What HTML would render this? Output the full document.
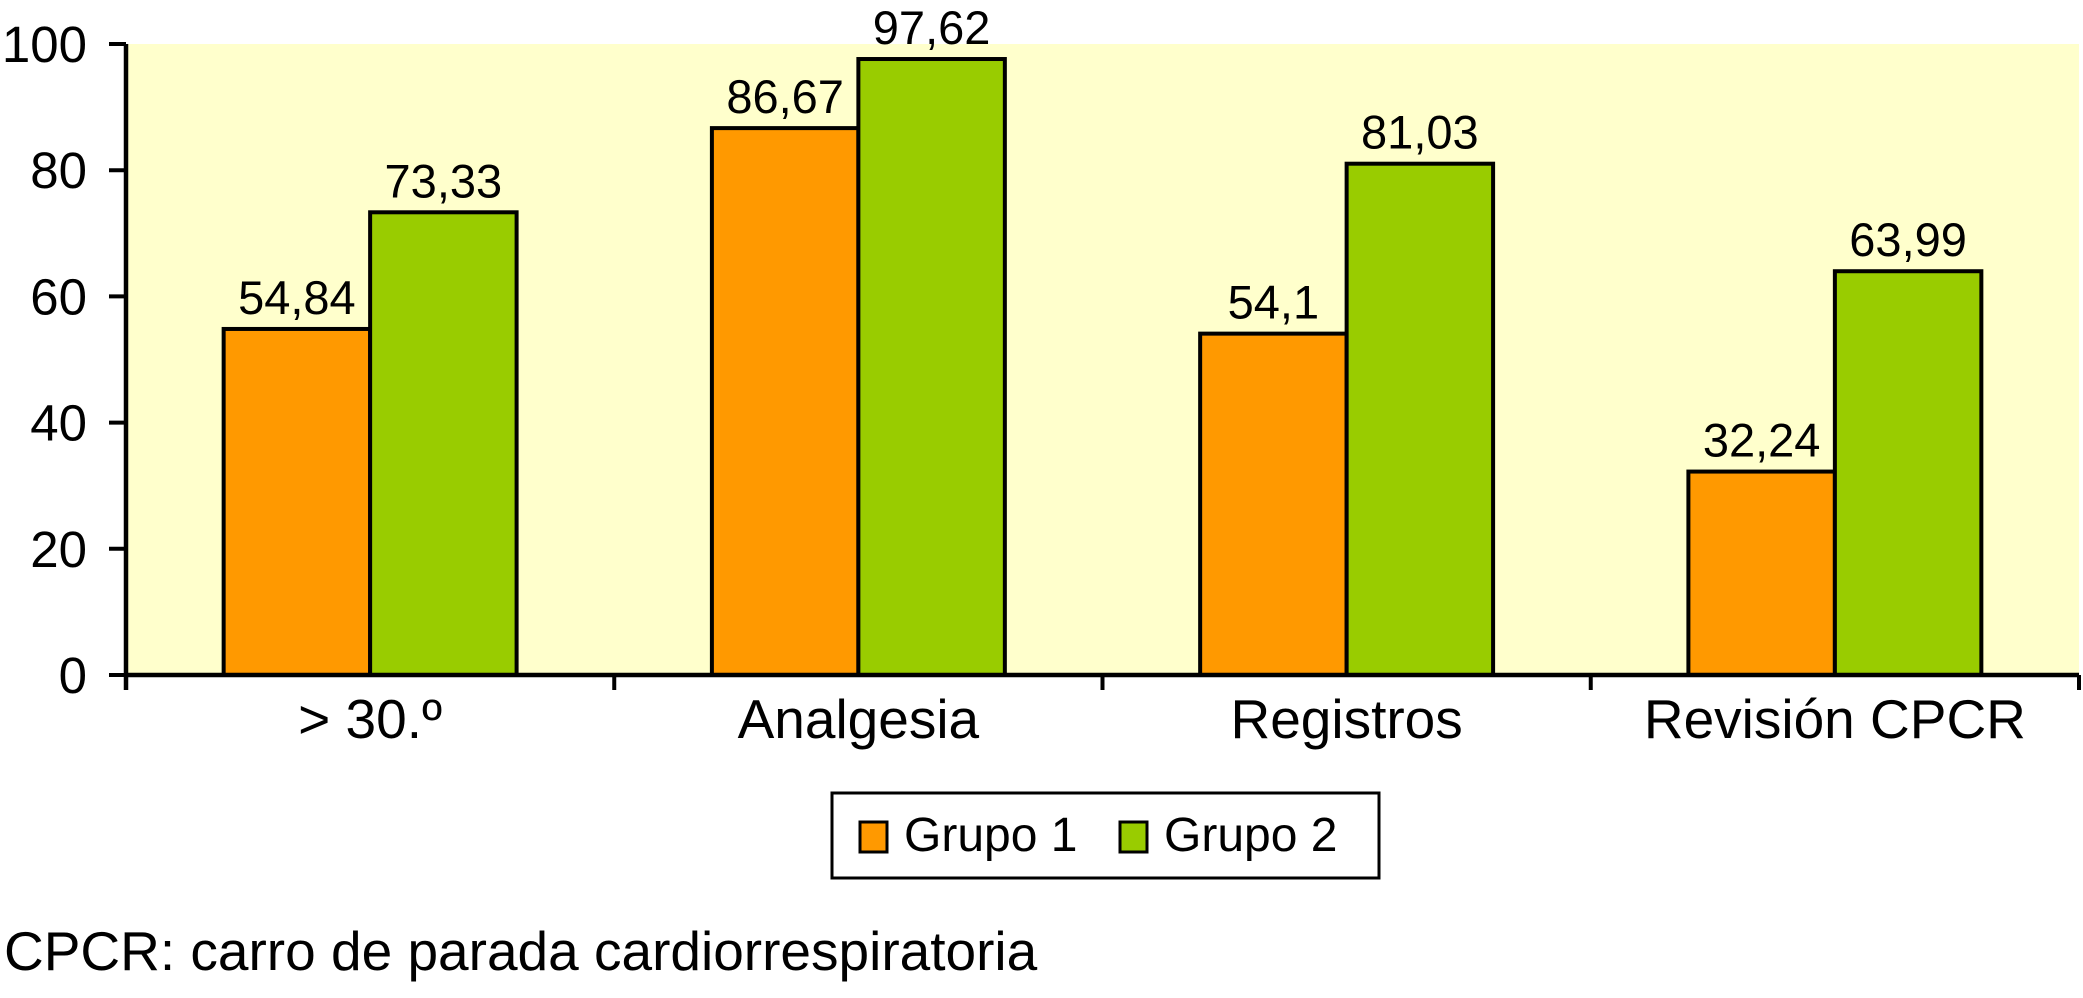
<!DOCTYPE html>
<html><head><meta charset="utf-8"><style>
html,body{margin:0;padding:0;background:#fff;}
svg{display:block;font-family:"Liberation Sans",Arial,sans-serif;}
</style></head><body>
<svg id="chart" width="2083" height="998" viewBox="0 0 2083 998" xmlns="http://www.w3.org/2000/svg">
<rect x="126" y="44" width="1953" height="631" fill="#ffffcc"/>
<g id="bars"></g>
<g id="labels"></g>
<g id="axes"></g>
<g>
<rect x="832" y="793" width="547" height="85" fill="#fff" stroke="#000" stroke-width="3"/>
<g>
<rect x="860" y="822" width="27" height="30" fill="#ff9900" stroke="#000" stroke-width="3"/>
<text x="904" y="851" font-size="48">Grupo 1</text></g>
<g>
<rect x="1120" y="822" width="27" height="30" fill="#99cc00" stroke="#000" stroke-width="3"/>
<text x="1164" y="851" font-size="48">Grupo 2</text></g>
</g>
<text x="4" y="970" font-size="55">CPCR: carro de parada cardiorrespiratoria</text>
</svg>
<script>
const categories = ["> 30.º", "Analgesia", "Registros", "Revisión CPCR"];
const grupo1 = [54.84, 86.67, 54.1, 32.24];
const grupo2 = [73.33, 97.62, 81.03, 63.99];
const grupo1Labels = ["54,84", "86,67", "54,1", "32,24"];
const grupo2Labels = ["73,33", "97,62", "81,03", "63,99"];
const yTicks = [0, 20, 40, 60, 80, 100];

const NS = "http://www.w3.org/2000/svg";
const X0 = 126, X1 = 2079, Y0 = 675, Y1 = 44, YMAX = 100;
const catW = (X1 - X0) / categories.length;
const barW = catW * 0.3;
const gap = (catW - 2 * barW) / 2;
function yScale(v){ return Y0 - (v / YMAX) * (Y0 - Y1); }
function xCat(i){ return X0 + i * catW; }
function mk(tag, attrs, parent){ const e = document.createElementNS(NS, tag); for (const k in attrs) e.setAttribute(k, attrs[k]); parent.appendChild(e); return e; }

const gb = document.getElementById("bars"), gl = document.getElementById("labels"), ga = document.getElementById("axes");
const series = [[grupo1, grupo1Labels, "#ff9900", "grupo-1"], [grupo2, grupo2Labels, "#99cc00", "grupo-2"]];
categories.forEach((c, i) => {
  series.forEach((s, j) => {
    const x = xCat(i) + gap + j * barW, y = yScale(s[0][i]);
    const r = mk("rect", {x: x, y: y, width: barW, height: Y0 - y, fill: s[2], stroke: "#000", "stroke-width": 4}, gb);
    
    
    const t = mk("text", {x: x + barW / 2, y: y - 15, "font-size": 47, "text-anchor": "middle"}, gl);
    t.textContent = s[1][i];
    
    
  });
  const cl = mk("text", {x: xCat(i) + catW / 2, y: 738, "font-size": 55, "text-anchor": "middle"}, ga);
  cl.textContent = c;
  
  
});
for (let i = 0; i <= categories.length; i++) {
  const tk = mk("line", {x1: xCat(i), x2: xCat(i), y1: Y0, y2: Y0 + 15, stroke: "#000", "stroke-width": 4}, ga);
  
  
}
yTicks.forEach(v => {
  const y = yScale(v);
  const tk = mk("line", {x1: X0 - 17, x2: X0, y1: y, y2: y, stroke: "#000", "stroke-width": 4}, ga);
  
  
  const t = mk("text", {x: 87, y: y + 18, "font-size": 51, "text-anchor": "end"}, ga);
  t.textContent = v;
  
  
});
const ya = mk("line", {x1: X0, x2: X0, y1: Y1, y2: Y0 + 15, stroke: "#000", "stroke-width": 4.5}, ga);


const xa = mk("line", {x1: X0, x2: X1, y1: Y0, y2: Y0, stroke: "#000", "stroke-width": 4.5}, ga);


</script>
</body></html>
